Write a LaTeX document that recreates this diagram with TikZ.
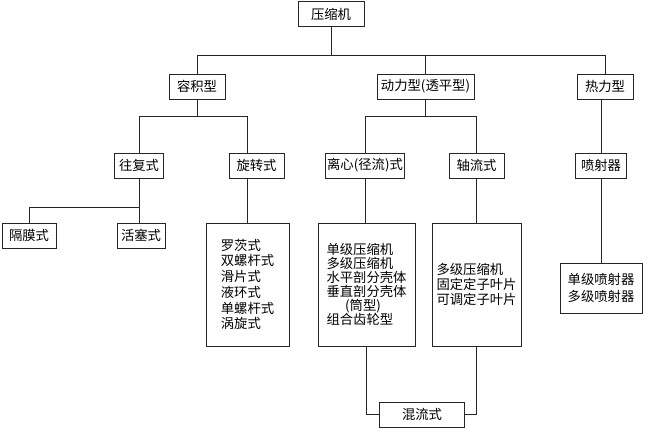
\documentclass[tikz,border=0pt]{standalone}
\usepackage{fontspec}
\newfontfamily\cjk{Noto Sans CJK SC}

\newdimen\pix
\pix=0.75pt

\begin{document}
\begin{tikzpicture}[x=0.75pt,y=-0.75pt,line width=0.7pt,draw=black!85]
    % `box' is used for every one-line class name.
    % `list' is used for the boxes that hold several lines.
    \tikzstyle{box} = [draw,fill=white,font=\cjk\fontsize{10pt}{12pt}\selectfont,minimum height=25\pix,inner sep=1pt]
    \tikzstyle{list} = [box,align=left]
    \useasboundingbox[fill=white] (0,0) rectangle (650,429);
    %
    \node[box,minimum width=66\pix] (yasuoji) at (331,14) {压缩机};
    \node[box,minimum width=56\pix] (rongji) at (197,86.5) {容积型};
    \node[box,minimum width=97\pix] (dongli) at (425.5,86.5) {动力型(透平型)};
    \node[box,minimum width=56\pix] (reli) at (605,86.5) {热力型};
    \node[box,minimum width=49\pix] (wangfu) at (139,165.5) {往复式};
    \node[box,minimum width=55\pix] (xuanzhuan) at (256.5,165.5) {旋转式};
    \node[box,minimum width=76\pix] (lixin) at (365,165.5) {离心(径流)式};
    \node[box,minimum width=55\pix] (zhouliu) at (476.5,165.5) {轴流式};
    \node[box,minimum width=51\pix] (penshe) at (601,165.5) {喷射器};
    \node[box,minimum width=54\pix] (gemo) at (29,235.5) {隔膜式};
    \node[box,minimum width=48\pix] (huosai) at (141,235.5) {活塞式};
    \node[list,minimum width=83\pix,minimum height=123\pix,font=\cjk\fontsize{10pt}{11.8pt}\selectfont] (xzlist) at (247.5,284.5)
      {罗茨式\\双螺杆式\\滑片式\\液环式\\单螺杆式\\涡旋式};
    \node[list,minimum width=97\pix,minimum height=123\pix,font=\cjk\fontsize{10pt}{10.6pt}\selectfont] (lxlist) at (366.5,284.5)
      {单级压缩机\\多级压缩机\\水平剖分壳体\\垂直剖分壳体\\\hspace*{1.4em}(筒型)\\组合齿轮型};
    \node[list,minimum width=89\pix,minimum height=123\pix,font=\cjk\fontsize{10pt}{11pt}\selectfont] (zllist) at (476.5,284.5)
      {多级压缩机\\固定定子叶片\\可调定子叶片};
    \node[list,minimum width=82\pix,minimum height=50\pix,font=\cjk\fontsize{10pt}{12.5pt}\selectfont] (pslist) at (601,288)
      {单级喷射器\\多级喷射器};
    \node[box,minimum width=85\pix] (hunliu) at (422,414.5) {混流式};
    %
    % Draw lines.
    \draw (rongji.north) -- ++(0,-18) coordinate (bus) -| (reli.north);
    \draw (yasuoji.south) -- (yasuoji.south |- bus)  (dongli.north) -- (dongli.north |- bus);
    \draw (wangfu.north) -- ++(0,-36) coordinate (fork1) -| (xzlist.north |- xuanzhuan.north);
    \draw (rongji.south) -- (rongji.south |- fork1)  (xzlist.north) -- (xzlist.north |- xuanzhuan.south);
    \draw (wangfu.south) -- ++(0,29) coordinate (fork2) -| (gemo.north);
    \draw (fork2) -- (fork2 |- huosai.north);
    \draw (lixin.north) -- ++(0,-36) coordinate (fork3) -| (zhouliu.north);
    \draw (dongli.south) -- (dongli.south |- fork3)  (lixin.south) -- (lixin.south |- lxlist.north)
          (zhouliu.south) -- (zllist.north);
    \draw (penshe.north) -- (penshe.north |- reli.south)  (penshe.south) -- (pslist.north);
    \draw (lxlist.south) |- (hunliu.west)  (zllist.south) |- (hunliu.east);
\end{tikzpicture}
\end{document}
